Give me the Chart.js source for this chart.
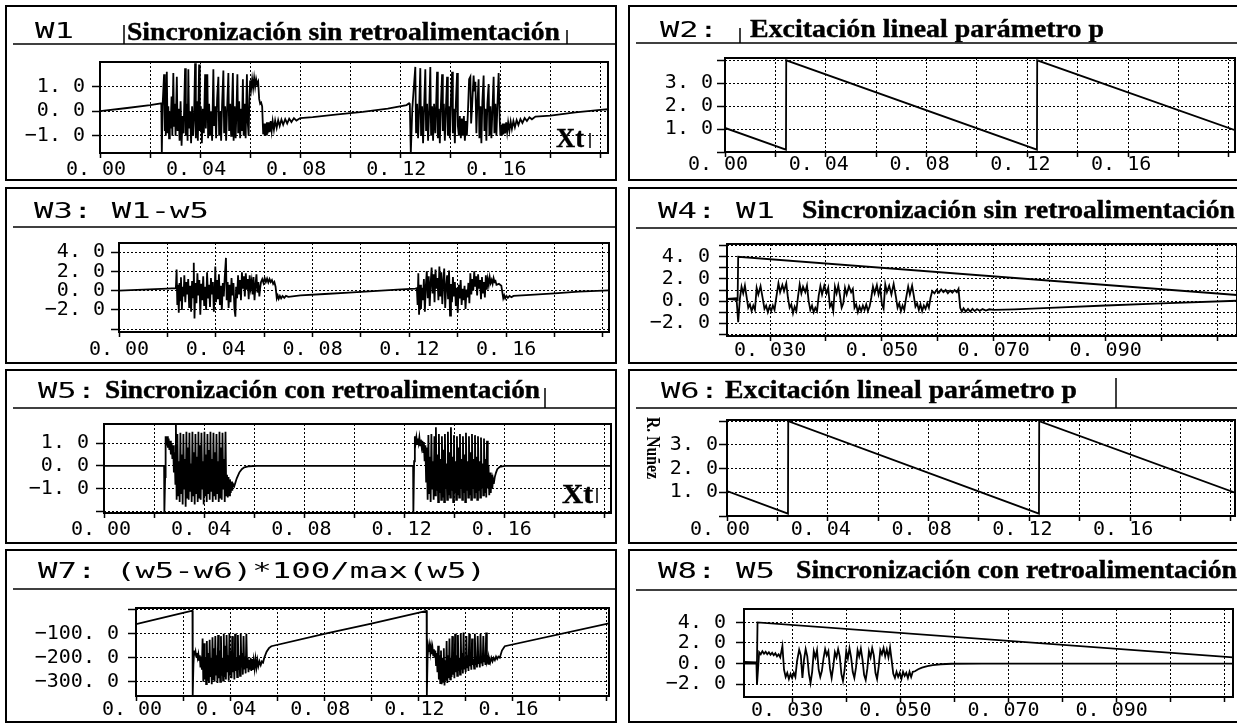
<!DOCTYPE html>
<html>
<head>
<meta charset="utf-8">
<script src="https://cdn.jsdelivr.net/npm/chart.js@4.4.1/dist/chart.umd.min.js"></script>
<style>
  html, body { margin: 0; padding: 0; background: #fff; }
  #page { position: relative; width: 1237px; height: 724px; overflow: hidden; background: #fff; }
  canvas { position: absolute; }
  svg { position: absolute; left: 0; top: 0; pointer-events: none; }
  .mono { font-family: "DejaVu Sans Mono", monospace; font-size: 21px; }
  .serif { font-family: "Liberation Serif", "DejaVu Serif", serif; font-weight: bold; font-size: 25px; stroke: #000; stroke-width: 0.4px; }
  .xt { font-family: "Liberation Serif", "DejaVu Serif", serif; font-weight: bold; font-size: 28px; stroke: #000; stroke-width: 0.4px; }
</style>
</head>
<body>
<div id="page">
  <canvas id="c1"></canvas><canvas id="c2"></canvas>
  <canvas id="c3"></canvas><canvas id="c4"></canvas>
  <canvas id="c5"></canvas><canvas id="c6"></canvas>
  <canvas id="c7"></canvas><canvas id="c8"></canvas>
  <svg width="1237" height="724" xmlns="http://www.w3.org/2000/svg">
    <g fill="none" stroke="#000" stroke-width="2">
      <rect x="6" y="6" width="610" height="174"/>
      <rect x="629" y="6" width="620" height="174"/>
      <rect x="6" y="188" width="610" height="175"/>
      <rect x="629" y="188" width="620" height="175"/>
      <rect x="6" y="370" width="610" height="173"/>
      <rect x="629" y="370" width="620" height="173"/>
      <rect x="6" y="550" width="610" height="172"/>
      <rect x="629" y="550" width="620" height="172"/>
    </g>
    <g stroke="#000" stroke-width="1.5">
      <line x1="13" y1="44" x2="616" y2="44"/>
      <line x1="636" y1="43" x2="1237" y2="43"/>
      <line x1="13" y1="227" x2="616" y2="227"/>
      <line x1="636" y1="228" x2="1237" y2="228"/>
      <line x1="13" y1="408" x2="616" y2="408"/>
      <line x1="636" y1="408" x2="1237" y2="408"/>
      <line x1="13" y1="589" x2="616" y2="589"/>
      <line x1="636" y1="590" x2="1237" y2="590"/>
      <line x1="124" y1="25" x2="124" y2="44"/>
      <line x1="567" y1="30" x2="567" y2="44"/>
      <line x1="590" y1="133" x2="590" y2="148"/>
      <line x1="740" y1="28" x2="740" y2="43"/>
      <line x1="545" y1="388" x2="545" y2="408"/>
      <line x1="597" y1="488" x2="597" y2="503"/>
      <line x1="1116" y1="378" x2="1116" y2="408"/>
    </g>
    <g fill="#000">
      <text class="mono" x="35" y="38" textLength="39" lengthAdjust="spacingAndGlyphs">W1</text>
      <text class="serif" x="127" y="40" textLength="433" lengthAdjust="spacingAndGlyphs">Sincronización sin retroalimentación</text>
      <text class="xt" x="556" y="147" textLength="28" lengthAdjust="spacingAndGlyphs">Xt</text>

      <text class="mono" x="660" y="37" textLength="58" lengthAdjust="spacingAndGlyphs">W2:</text>
      <text class="serif" x="750" y="37" textLength="354" lengthAdjust="spacingAndGlyphs">Excitación lineal parámetro p</text>

      <text class="mono" x="34" y="218" textLength="175" lengthAdjust="spacingAndGlyphs">W3: W1-w5</text>

      <text class="mono" x="658" y="218" textLength="117" lengthAdjust="spacingAndGlyphs">W4: W1</text>
      <text class="serif" x="802" y="218" textLength="433" lengthAdjust="spacingAndGlyphs">Sincronización sin retroalimentación</text>

      <text class="mono" x="38" y="398" textLength="58" lengthAdjust="spacingAndGlyphs">W5:</text>
      <text class="serif" x="105" y="398" textLength="435" lengthAdjust="spacingAndGlyphs">Sincronización con retroalimentación</text>
      <text class="xt" x="562" y="503" textLength="31" lengthAdjust="spacingAndGlyphs">Xt</text>

      <text class="mono" x="661" y="398" textLength="58" lengthAdjust="spacingAndGlyphs">W6:</text>
      <text class="serif" x="725" y="398" textLength="352" lengthAdjust="spacingAndGlyphs">Excitación lineal parámetro p</text>
      <text transform="translate(647,417) rotate(90)" font-family="Liberation Serif, serif" font-weight="bold" font-size="19" textLength="62" lengthAdjust="spacingAndGlyphs">R. Nuñez</text>

      <text class="mono" x="38" y="578" textLength="448" lengthAdjust="spacingAndGlyphs">W7: (w5-w6)*100/max(w5)</text>

      <text class="mono" x="658" y="578" textLength="117" lengthAdjust="spacingAndGlyphs">W8: W5</text>
      <text class="serif" x="796" y="578" textLength="441" lengthAdjust="spacingAndGlyphs">Sincronización con retroalimentación</text>
    </g>
  </svg>
</div>
<script>
// tick positions and labels
const xTicksFull = [0, 0.02, 0.04, 0.06, 0.08, 0.10, 0.12, 0.14, 0.16, 0.18, 0.20];
const xLabelsFull = [0, 0.04, 0.08, 0.12, 0.16];
const xTicksZoom = [0.03, 0.04, 0.05, 0.06, 0.07, 0.08, 0.09, 0.10, 0.11];
const xLabelsZoom = [0.03, 0.05, 0.07, 0.09];

const w1YTicks = [-1, 0, 1];
const w1YLabels = [-1, 0, 1];
const w2YTicks = [0, 1, 2, 3, 4];
const w2YLabels = [1, 2, 3];
const w3YTicks = [-4, -2, 0, 2, 4];
const w3YLabels = [-2, 0, 2, 4];
const w4YTicks = [-3, -2, -1, 0, 1, 2, 3, 4, 5];
const w4YLabels = [-2, 0, 2, 4];
const w5YTicks = [-2, -1, 0, 1];
const w5YLabels = [-1, 0, 1];
const w6YTicks = [0, 1, 2, 3, 4];
const w6YLabels = [1, 2, 3];
const w7YTicks = [-300, -200, -100, 0];
const w7YLabels = [-300, -200, -100];
const w8YTicks = [-2, 0, 2, 4];
const w8YLabels = [-2, 0, 2, 4];

// W1: sync without feedback (x, Xt)
const w1Data = [
 [0,0.0],[0.010,0.12],[0.020,0.25],[0.0245,0.32],[0.0247,-1.7],[0.0250,0.2],
 [0.0256,1.5],[0.0259,-0.8],[0.0261,0.1],[0.0263,-1.0],[0.0267,1.6],[0.0270,-0.9],[0.0273,0.2],[0.0276,-1.1],[0.0279,0.0],[0.0282,-0.7],
 [0.0286,0.6],[0.0289,-1.0],[0.0293,1.55],[0.0296,-0.6],[0.0299,0.3],[0.0302,-1.0],[0.0307,1.4],[0.0310,-0.8],[0.0314,0.1],[0.0318,-1.2],
 [0.0322,0.4],[0.0326,-1.4],[0.0330,-0.2],[0.0334,-0.9],[0.0340,1.75],[0.0343,-1.0],[0.0347,0.3],[0.0350,-1.2],[0.0353,1.7],[0.0356,-0.7],
 [0.0360,0.0],[0.0364,-1.3],[0.0368,0.2],[0.0372,-1.0],[0.0376,-0.2],[0.0380,1.95],[0.0383,-1.1],[0.0387,0.4],[0.0391,-1.2],[0.0396,1.9],
 [0.0399,-0.8],[0.0403,0.2],[0.0407,-1.3],[0.0411,0.1],[0.0415,-0.9],[0.0420,1.5],[0.0423,-0.7],[0.0429,1.5],[0.0432,-1.1],[0.0436,0.3],
 [0.0440,-1.0],[0.0444,0.0],[0.0448,-1.2],[0.0453,1.7],[0.0456,-0.6],[0.0460,0.2],[0.0464,-1.1],[0.0468,0.5],[0.0473,1.4],[0.0476,-1.0],
 [0.0480,0.0],[0.0484,-1.2],[0.0488,0.3],[0.0493,1.65],[0.0496,-0.9],[0.0500,0.2],[0.0504,-1.2],[0.0508,0.1],[0.0513,1.55],[0.0516,-0.8],
 [0.0520,0.3],[0.0524,-1.0],[0.0527,0.0],[0.0531,1.55],[0.0534,-1.2],[0.0538,0.2],[0.0542,-1.1],[0.0545,-0.1],[0.0549,1.5],[0.0552,-0.9],
 [0.0556,0.4],[0.0560,-1.1],[0.0564,0.1],[0.0567,-0.8],[0.0571,1.3],[0.0574,-1.0],[0.0578,0.3],[0.0582,-1.1],[0.0587,1.5],[0.0590,-0.4],
 [0.0594,-1.0],[0.0597,0.5],[0.0600,1.25],[0.0604,0.9],[0.0608,1.3],[0.0612,0.95],[0.0616,1.35],[0.0620,1.0],[0.0624,1.3],[0.0628,1.1],
 [0.0632,1.2],[0.0636,0.5],[0.0640,0.3],[0.0644,0.35],[0.0648,0.2],[0.0652,-0.9],
 [0.0655,-0.5],[0.0658,-1.0],[0.0661,-0.5],[0.0664,-0.95],[0.0667,-0.45],[0.0670,-0.9],[0.0674,-0.45],[0.0678,-0.85],[0.0682,-0.4],[0.0686,-0.8],
 [0.0690,-0.4],[0.0695,-0.75],[0.0700,-0.38],[0.0706,-0.68],[0.0712,-0.36],[0.0718,-0.6],[0.0725,-0.34],[0.0732,-0.55],[0.0740,-0.32],[0.0748,-0.5],
 [0.0756,-0.3],[0.0765,-0.44],[0.0775,-0.28],[0.0785,-0.38],[0.0800,-0.28],[0.0850,-0.24],[0.0950,-0.13],[0.1050,-0.03],[0.1150,0.1],[0.1225,0.25],
 [0.1235,0.32],[0.1238,0.28],[0.1242,-1.7],[0.1248,0.1],
 [0.1260,1.8],[0.1263,-0.9],[0.1267,0.3],[0.1271,-1.1],[0.1275,0.0],[0.1280,1.75],[0.1283,-1.0],[0.1287,0.2],[0.1291,-1.3],[0.1295,0.1],
 [0.1300,1.7],[0.1303,-0.8],[0.1307,0.3],[0.1311,-1.2],[0.1315,-0.1],[0.1320,1.8],[0.1323,-1.0],[0.1327,0.2],[0.1331,-1.2],[0.1335,0.3],
 [0.1340,-0.9],[0.1347,1.6],[0.1350,-1.1],[0.1354,0.1],[0.1358,-1.3],[0.1362,0.2],[0.1367,1.5],[0.1370,-0.8],[0.1374,0.3],[0.1378,-1.2],
 [0.1382,0.0],[0.1387,1.4],[0.1390,-1.0],[0.1394,0.2],[0.1398,-1.1],[0.1402,0.4],[0.1407,1.6],[0.1410,-0.9],[0.1414,0.1],[0.1418,-1.3],
 [0.1422,0.3],[0.1427,1.55],[0.1430,-0.6],[0.1434,-1.0],[0.1438,-0.2],[0.1442,-1.1],[0.1446,-0.3],[0.1450,-1.0],[0.1454,-0.2],[0.1458,-1.2],
 [0.1462,-0.4],[0.1466,-1.0],[0.1470,-0.1],[0.1475,1.3],[0.1480,1.4],[0.1483,-0.5],[0.1487,0.2],[0.1493,1.45],[0.1496,0.8],[0.1500,1.2],
 [0.1504,-0.9],[0.1508,0.3],[0.1513,1.3],[0.1516,-1.1],[0.1520,0.2],[0.1524,-1.3],[0.1528,0.4],[0.1533,1.45],[0.1536,-0.8],[0.1540,0.1],
 [0.1544,-1.2],[0.1548,0.3],[0.1553,1.1],[0.1556,-1.0],[0.1560,0.2],[0.1564,-1.1],[0.1568,0.0],[0.1573,1.4],[0.1576,-0.9],[0.1580,0.3],
 [0.1584,-1.0],[0.1588,0.2],[0.1593,1.55],[0.1597,-0.3],[0.1600,-1.0],
 [0.1603,-0.55],[0.1606,-1.0],[0.1609,-0.5],[0.1612,-0.95],[0.1615,-0.5],[0.1619,-0.9],[0.1623,-0.45],[0.1627,-0.85],[0.1631,-0.45],[0.1636,-0.8],
 [0.1641,-0.42],[0.1646,-0.72],[0.1652,-0.4],[0.1658,-0.65],[0.1665,-0.36],[0.1672,-0.56],[0.1680,-0.32],[0.1688,-0.48],[0.1697,-0.28],[0.1706,-0.4],
 [0.1716,-0.25],[0.1726,-0.33],[0.1740,-0.22],[0.1800,-0.18],[0.1900,-0.05],[0.2000,0.05],[0.2030,0.08]
];

// W2 and W6: linear excitation of parameter p
const w2Data = [[0,1.05],[0.0242,0.1],[0.0243,4.0],[0.1238,0.1],[0.1239,4.0],[0.2024,0.95]];
const w6Data = [[0,1.05],[0.0242,0.1],[0.0243,4.0],[0.1238,0.1],[0.1239,4.0],[0.2016,0.98]];

// W3: W1 - w5
const w3Data = [
 [0,0.0],[0.010,0.1],[0.020,0.2],[0.0235,0.25],
 [0.0238,2.2],[0.0241,-1.5],[0.0244,0.6],[0.0247,-2.3],[0.0250,0.8],[0.0253,-1.0],[0.0256,1.4],[0.0260,-2.0],[0.0263,0.4],[0.0267,-0.6],
 [0.0270,1.6],[0.0274,-1.2],[0.0278,0.9],[0.0282,-0.4],[0.0286,1.2],[0.0290,-1.8],[0.0294,0.5],[0.0298,-2.2],[0.0302,1.0],[0.0306,-0.7],
 [0.0309,2.9],[0.0312,-2.9],[0.0316,0.8],[0.0320,-1.3],[0.0324,1.8],[0.0328,-0.5],[0.0332,1.1],[0.0336,-2.5],[0.0340,0.7],[0.0344,-1.0],
 [0.0348,1.5],[0.0352,-1.6],[0.0356,0.4],[0.0360,-2.0],[0.0364,1.9],[0.0368,-0.8],[0.0372,0.6],[0.0376,-1.7],[0.0380,1.3],[0.0384,-0.4],
 [0.0388,0.9],[0.0392,-2.2],[0.0396,0.3],[0.0398,2.5],[0.0401,-1.2],[0.0405,1.1],[0.0409,-0.9],[0.0413,1.7],[0.0417,-1.5],[0.0421,0.5],
 [0.0425,-2.0],[0.0429,0.8],[0.0433,-0.6],[0.0437,1.4],[0.0442,3.4],[0.0445,-1.0],[0.0449,0.9],[0.0453,-1.8],[0.0457,0.6],[0.0461,-1.2],
 [0.0465,1.3],[0.0469,-0.5],[0.0473,0.8],[0.0477,-1.9],[0.0481,-2.7],[0.0484,0.4],[0.0488,-0.8],[0.0492,1.6],[0.0496,-0.3],[0.0500,1.1],
 [0.0504,-1.0],[0.0508,1.9],[0.0512,0.2],[0.0516,1.5],[0.0520,-0.6],[0.0524,1.8],[0.0528,0.1],[0.0532,1.2],[0.0536,-0.9],[0.0540,1.6],
 [0.0544,0.3],[0.0548,1.0],[0.0552,-0.4],[0.0556,1.4],[0.0560,-1.0],[0.0564,0.6],[0.0568,1.7],[0.0572,-0.2],[0.0576,0.9],[0.0580,-0.6],
 [0.0584,0.4],[0.0587,0.9],[0.0592,1.2],[0.0597,0.8],[0.0602,1.3],[0.0607,0.9],[0.0612,1.25],[0.0617,0.85],[0.0622,1.2],[0.0627,0.9],
 [0.0632,1.1],[0.0637,0.7],[0.0642,0.9],[0.0647,0.4],[0.0652,-0.8],[0.0656,-0.5],[0.0660,-0.85],[0.0665,-0.55],[0.0670,-0.8],[0.0676,-0.55],
 [0.0683,-0.75],[0.0690,-0.55],[0.0700,-0.65],[0.0750,-0.5],[0.0850,-0.35],[0.0950,-0.2],[0.1050,-0.05],[0.1150,0.1],[0.1225,0.2],[0.1231,0.25],
 [0.1234,-1.5],[0.1237,1.8],[0.1240,-2.5],[0.1244,0.6],[0.1248,-1.9],[0.1252,0.3],[0.1256,-1.0],[0.1260,1.2],[0.1264,-2.2],[0.1268,0.5],
 [0.1272,2.0],[0.1276,-0.8],[0.1280,1.5],[0.1284,-1.6],[0.1288,0.8],[0.1292,2.4],[0.1296,-0.3],[0.1300,1.7],[0.1304,-1.2],[0.1308,2.2],
 [0.1312,0.2],[0.1316,1.3],[0.1320,-1.0],[0.1324,2.5],[0.1328,-0.6],[0.1332,1.9],[0.1336,-1.4],[0.1340,1.0],[0.1344,2.3],[0.1348,-1.8],
 [0.1352,0.4],[0.1356,1.6],[0.1360,-0.9],[0.1364,2.1],[0.1368,-2.6],[0.1372,0.7],[0.1376,-1.2],[0.1380,1.4],[0.1384,-0.6],[0.1388,0.9],
 [0.1392,-1.6],[0.1396,0.3],[0.1400,-2.3],[0.1404,0.6],[0.1408,-0.8],[0.1412,1.1],[0.1416,-1.5],[0.1420,0.2],[0.1424,-1.0],[0.1428,0.5],
 [0.1432,-1.9],[0.1436,0.1],[0.1440,-0.7],[0.1444,0.8],[0.1448,-1.3],[0.1452,1.8],[0.1456,-0.4],[0.1460,1.2],[0.1464,0.0],[0.1468,2.0],
 [0.1472,0.4],[0.1476,1.5],[0.1480,-0.5],[0.1484,1.7],[0.1488,0.2],[0.1492,1.1],[0.1496,-0.9],[0.1500,1.4],[0.1504,-0.3],[0.1508,0.9],
 [0.1512,-0.7],[0.1516,1.6],[0.1520,0.1],[0.1524,1.2],[0.1528,0.6],[0.1532,1.4],[0.1536,0.8],[0.1540,1.1],[0.1544,0.7],[0.1548,1.3],
 [0.1552,0.9],[0.1556,1.0],[0.1560,0.6],[0.1570,0.7],[0.1580,0.5],[0.1588,-0.8],[0.1592,-0.5],[0.1596,-0.8],[0.1601,-0.55],[0.1607,-0.75],
 [0.1614,-0.55],[0.1622,-0.68],[0.1630,-0.55],[0.1700,-0.45],[0.1800,-0.28],[0.1900,-0.1],[0.2025,0.02]
];

// W4: zoom of W1 together with the excitation ramp
const w4Saw = [[0.0223,0.2],[0.0242,0.1],[0.0243,4.0],[0.1135,0.55]];
const w4Signal = [
 [0.0223,0.2],[0.0240,0.25],[0.0243,-1.9],[0.0246,0.2],
 [0.0249,1.3],[0.0252,0.7],[0.0255,1.4],[0.0258,0.4],[0.0261,-0.6],[0.0264,-0.3],[0.0267,-0.9],[0.0270,-0.4],[0.0273,-0.8],[0.0276,1.2],
 [0.0279,0.6],[0.0283,1.35],[0.0287,0.2],[0.0290,-0.7],[0.0293,-0.4],[0.0296,-1.0],[0.0299,-0.5],[0.0302,-0.9],[0.0305,-0.4],[0.0308,-0.8],
 [0.0311,0.3],[0.0315,1.6],[0.0318,0.8],[0.0322,1.45],[0.0325,0.9],[0.0329,1.6],[0.0332,0.3],[0.0335,-0.6],[0.0338,-0.3],[0.0341,-1.1],
 [0.0344,-0.5],[0.0347,-0.9],[0.0350,0.4],[0.0353,1.5],[0.0356,0.7],[0.0359,1.3],[0.0363,0.8],[0.0366,1.4],[0.0369,0.0],[0.0372,-0.8],
 [0.0375,-0.4],[0.0378,-1.0],[0.0381,-0.6],[0.0384,-0.9],[0.0387,0.5],[0.0390,1.35],[0.0393,0.6],[0.0397,1.4],[0.0401,0.7],[0.0404,1.2],
 [0.0407,-0.5],[0.0410,-0.2],[0.0413,-0.9],[0.0416,1.3],[0.0419,0.7],[0.0422,1.4],[0.0425,0.5],[0.0428,-0.6],[0.0431,-0.2],[0.0434,1.2],
 [0.0437,0.6],[0.0441,1.35],[0.0445,0.8],[0.0448,1.1],[0.0451,-0.6],[0.0454,-0.3],[0.0457,-1.0],[0.0460,-0.5],[0.0463,-0.9],[0.0466,-0.4],
 [0.0469,-0.8],[0.0472,-0.3],[0.0475,-0.9],[0.0478,-0.5],[0.0481,0.3],[0.0484,1.3],[0.0487,0.7],[0.0491,1.45],[0.0494,0.6],[0.0497,1.2],
 [0.0500,-0.3],[0.0503,-0.7],[0.0506,1.5],[0.0509,0.8],[0.0513,1.4],[0.0517,0.6],[0.0521,1.55],[0.0525,0.4],[0.0528,-0.6],[0.0531,-0.2],
 [0.0534,-0.9],[0.0537,-0.4],[0.0540,-0.8],[0.0543,0.2],[0.0547,1.3],[0.0550,0.6],[0.0554,1.4],[0.0557,0.5],[0.0560,-0.5],[0.0563,-0.2],
 [0.0566,-0.8],[0.0569,-0.3],[0.0572,-0.9],[0.0575,-0.4],[0.0578,-0.7],[0.0581,-0.2],[0.0584,-0.6],[0.0587,0.3],[0.0590,0.9],[0.0594,0.7],
 [0.0598,1.0],[0.0602,0.75],[0.0606,1.05],[0.0610,0.8],[0.0614,1.0],[0.0618,0.7],[0.0622,0.95],[0.0626,0.75],[0.0630,1.0],[0.0634,0.8],
 [0.0637,1.1],[0.0640,-0.6],[0.0643,-0.95],[0.0646,-0.65],[0.0650,-0.95],[0.0654,-0.7],[0.0658,-0.95],[0.0662,-0.7],[0.0666,-0.9],[0.0670,-0.72],
 [0.0675,-0.88],[0.0680,-0.72],[0.0686,-0.85],[0.0692,-0.74],[0.0700,-0.8],[0.0737,-0.75],[0.0800,-0.62],[0.0900,-0.4],[0.1000,-0.2],[0.1135,0.03]
];

// W5: sync with feedback (x, Xt)
const w5Data = [
 [0,0],[0.0240,0],[0.0241,-2.08],[0.0244,-0.5],[0.0246,1.3],[0.0249,0.9],[0.0252,1.3],[0.0255,0.8],[0.0258,1.2],[0.0261,0.7],
 [0.0264,1.1],[0.0267,0.5],[0.0270,1.0],[0.0273,0.3],[0.0276,0.9],[0.0279,-0.3],[0.0282,0.6],[0.0285,-0.8],[0.0287,1.85],[0.0290,-1.5],
 [0.0293,1.4],[0.0296,-1.3],[0.0299,0.2],[0.0302,-1.6],[0.0305,1.45],[0.0308,-1.2],[0.0311,0.5],[0.0314,-1.7],[0.0317,1.4],[0.0320,-1.0],
 [0.0323,0.3],[0.0326,-1.8],[0.0329,1.5],[0.0332,-1.4],[0.0335,0.8],[0.0338,-1.5],[0.0341,1.45],[0.0344,-1.1],[0.0347,0.1],[0.0350,-1.6],
 [0.0353,1.5],[0.0356,-1.3],[0.0359,0.6],[0.0362,-1.7],[0.0365,1.4],[0.0368,-1.2],[0.0371,0.4],[0.0374,-1.6],[0.0377,1.5],[0.0380,-1.4],
 [0.0383,0.9],[0.0386,-1.5],[0.0389,1.45],[0.0392,-1.0],[0.0395,0.2],[0.0398,-1.7],[0.0401,1.5],[0.0404,-1.3],[0.0407,0.5],[0.0410,-1.6],
 [0.0413,1.4],[0.0416,-1.2],[0.0419,0.7],[0.0422,-1.5],[0.0425,1.5],[0.0428,-1.1],[0.0431,0.3],[0.0434,-1.6],[0.0437,1.45],[0.0440,-1.3],
 [0.0443,0.6],[0.0446,-1.5],[0.0449,1.4],[0.0452,-1.2],[0.0455,0.2],[0.0458,-1.6],[0.0461,1.5],[0.0464,-1.4],[0.0467,0.8],[0.0470,-1.5],
 [0.0473,1.45],[0.0476,-1.0],[0.0479,0.3],[0.0482,-1.6],[0.0485,1.5],[0.0488,-1.3],[0.0491,-0.4],[0.0494,-1.4],[0.0497,-0.5],[0.0500,-1.3],
 [0.0503,-0.6],[0.0506,-1.2],[0.0509,-0.7],[0.0512,-1.1],[0.0515,-0.8],[0.0520,-0.9],[0.0530,-0.55],[0.0540,-0.3],[0.0550,-0.15],[0.0560,-0.07],
 [0.0580,-0.02],[0.0610,0],
 [0.1234,0],[0.1235,-2.08],[0.1238,0.2],[0.1241,1.3],[0.1244,1.0],[0.1247,1.25],[0.1250,0.95],[0.1253,1.2],[0.1256,1.0],[0.1259,1.25],
 [0.1262,0.9],[0.1265,1.15],[0.1268,0.85],[0.1271,1.1],[0.1274,0.6],[0.1277,1.05],[0.1280,0.2],[0.1283,0.9],[0.1286,-0.7],[0.1289,0.8],
 [0.1292,-1.5],[0.1295,1.35],[0.1298,-1.2],[0.1301,0.4],[0.1304,-1.6],[0.1307,1.4],[0.1310,-1.0],[0.1313,0.2],[0.1316,-1.5],[0.1319,1.3],
 [0.1322,-1.3],[0.1325,1.7],[0.1328,-1.1],[0.1331,0.5],[0.1334,-1.6],[0.1337,1.4],[0.1340,-1.2],[0.1343,0.3],[0.1346,-1.5],[0.1349,1.3],
 [0.1352,-1.4],[0.1355,0.7],[0.1358,-1.6],[0.1361,1.4],[0.1364,-1.0],[0.1367,0.1],[0.1370,-1.5],[0.1373,1.5],[0.1376,-1.3],[0.1379,0.6],
 [0.1382,-1.4],[0.1385,1.7],[0.1388,-1.1],[0.1391,0.4],[0.1394,-1.6],[0.1397,1.35],[0.1400,-1.2],[0.1403,0.2],[0.1406,-1.5],[0.1409,1.3],
 [0.1412,-1.3],[0.1415,0.8],[0.1418,-1.4],[0.1421,1.4],[0.1424,-1.0],[0.1427,0.3],[0.1430,-1.5],[0.1433,1.3],[0.1436,-1.2],[0.1439,0.5],
 [0.1442,-1.6],[0.1445,1.45],[0.1448,-1.1],[0.1451,0.2],[0.1454,-1.4],[0.1457,1.3],[0.1460,-1.3],[0.1463,0.6],[0.1466,-1.5],[0.1469,1.4],
 [0.1472,-1.0],[0.1475,0.3],[0.1478,-1.4],[0.1481,1.35],[0.1484,-1.2],[0.1487,0.4],[0.1490,-1.5],[0.1493,1.3],[0.1496,-1.1],[0.1499,0.2],
 [0.1502,-1.4],[0.1505,1.25],[0.1508,-1.0],[0.1511,0.1],[0.1514,-1.3],[0.1517,1.2],[0.1520,-1.2],[0.1523,0.3],[0.1526,-1.4],[0.1529,1.1],
 [0.1532,-1.0],[0.1535,0.0],[0.1538,-1.3],[0.1541,-0.3],[0.1544,-1.2],[0.1547,-0.4],[0.1550,-1.0],[0.1553,-0.6],[0.1556,-0.8],[0.1560,-0.5],
 [0.1565,-0.3],[0.1570,-0.15],[0.1580,-0.05],[0.1600,0],[0.2024,0]
];

// W7: (w5-w6)*100/max(w5)
const w7Data = [
 [0,-60],[0.012,-32],[0.0240,-4],[0.0241,-355],[0.0244,-230],[0.0247,-170],[0.0250,-190],[0.0253,-175],[0.0256,-195],[0.0259,-180],
 [0.0262,-200],[0.0265,-185],[0.0268,-210],[0.0271,-190],[0.0274,-240],[0.0277,-195],[0.0280,-250],[0.0283,-120],[0.0286,-300],[0.0289,-140],
 [0.0292,-290],[0.0295,-200],[0.0298,-310],[0.0301,-130],[0.0304,-295],[0.0307,-180],[0.0310,-305],[0.0313,-125],[0.0316,-280],[0.0319,-200],
 [0.0322,-310],[0.0325,-115],[0.0328,-290],[0.0331,-160],[0.0334,-300],[0.0337,-110],[0.0340,-270],[0.0343,-190],[0.0346,-305],[0.0349,-105],
 [0.0352,-285],[0.0355,-170],[0.0358,-300],[0.0361,-110],[0.0364,-275],[0.0367,-200],[0.0370,-295],[0.0373,-100],[0.0376,-280],[0.0379,-150],
 [0.0382,-290],[0.0385,-105],[0.0388,-260],[0.0391,-190],[0.0394,-295],[0.0397,-100],[0.0400,-270],[0.0403,-170],[0.0406,-285],[0.0409,-110],
 [0.0412,-260],[0.0415,-180],[0.0418,-290],[0.0421,-100],[0.0424,-255],[0.0427,-200],[0.0430,-280],[0.0433,-105],[0.0436,-250],[0.0439,-190],
 [0.0442,-275],[0.0445,-100],[0.0448,-240],[0.0451,-180],[0.0454,-270],[0.0457,-110],[0.0460,-245],[0.0463,-195],[0.0466,-265],[0.0469,-100],
 [0.0472,-240],[0.0475,-200],[0.0478,-260],[0.0481,-210],[0.0484,-250],[0.0487,-200],[0.0490,-255],[0.0493,-205],[0.0496,-250],[0.0500,-210],
 [0.0504,-245],[0.0508,-205],[0.0512,-240],[0.0516,-210],[0.0520,-235],[0.0525,-215],[0.0530,-230],[0.0535,-215],[0.0540,-220],[0.0545,-200],
 [0.0555,-175],[0.0565,-160],[0.0575,-152],[0.0800,-101],[0.1000,-58],[0.1235,-5],
 [0.1236,-355],[0.1239,-200],[0.1242,-155],[0.1245,-175],[0.1248,-150],[0.1251,-180],[0.1254,-155],[0.1257,-185],[0.1260,-160],[0.1263,-190],
 [0.1266,-165],[0.1269,-200],[0.1272,-170],[0.1275,-230],[0.1278,-180],[0.1281,-260],[0.1284,-150],[0.1287,-290],[0.1290,-190],[0.1293,-305],
 [0.1296,-170],[0.1299,-310],[0.1302,-200],[0.1305,-300],[0.1308,-160],[0.1311,-315],[0.1314,-210],[0.1317,-295],[0.1320,-130],[0.1323,-305],
 [0.1326,-190],[0.1329,-285],[0.1332,-120],[0.1335,-290],[0.1338,-200],[0.1341,-280],[0.1344,-110],[0.1347,-270],[0.1350,-180],[0.1353,-285],
 [0.1356,-100],[0.1359,-260],[0.1362,-190],[0.1365,-275],[0.1368,-105],[0.1371,-255],[0.1374,-200],[0.1377,-270],[0.1380,-100],[0.1383,-250],
 [0.1386,-180],[0.1389,-265],[0.1392,-95],[0.1395,-245],[0.1398,-200],[0.1401,-260],[0.1404,-110],[0.1407,-240],[0.1410,-190],[0.1413,-255],
 [0.1416,-100],[0.1419,-235],[0.1422,-200],[0.1425,-250],[0.1428,-120],[0.1431,-230],[0.1434,-205],[0.1437,-245],[0.1440,-100],[0.1443,-230],
 [0.1446,-195],[0.1449,-240],[0.1452,-110],[0.1455,-225],[0.1458,-200],[0.1461,-240],[0.1464,-100],[0.1467,-220],[0.1470,-205],[0.1473,-235],
 [0.1476,-110],[0.1479,-215],[0.1482,-200],[0.1485,-230],[0.1488,-95],[0.1491,-215],[0.1494,-205],[0.1497,-225],[0.1500,-200],[0.1505,-220],
 [0.1510,-200],[0.1515,-215],[0.1520,-200],[0.1525,-210],[0.1530,-195],[0.1535,-205],[0.1540,-195],[0.1546,-200],[0.1555,-170],[0.1567,-152],
 [0.2010,-57]
];

// W8: zoom of W5 together with the excitation ramp
const w8Saw = [[0.0211,0.15],[0.0235,0.1],[0.0236,4.0],[0.1115,0.6]];
const w8Signal = [
 [0.0211,0],[0.0234,0],[0.0235,-2.05],[0.0237,-0.5],[0.0239,1.1],[0.0242,0.9],[0.0245,1.2],[0.0248,0.95],[0.0251,1.15],[0.0254,0.9],
 [0.0257,1.1],[0.0260,0.85],[0.0263,1.05],[0.0266,0.8],[0.0269,1.0],[0.0272,0.7],[0.0275,0.9],[0.0278,0.6],[0.0282,1.7],[0.0285,-0.6],
 [0.0288,-1.3],[0.0291,-0.9],[0.0294,-1.5],[0.0297,-1.0],[0.0300,-1.4],[0.0303,-0.9],[0.0306,-1.3],[0.0309,0.2],[0.0313,1.35],[0.0316,0.8],
 [0.0319,-1.4],[0.0322,0.4],[0.0325,1.4],[0.0328,0.7],[0.0331,-1.0],[0.0334,-1.9],[0.0337,-0.8],[0.0340,1.2],[0.0343,0.6],[0.0346,1.3],
 [0.0349,-0.6],[0.0352,-1.3],[0.0355,-0.7],[0.0358,0.5],[0.0361,1.4],[0.0364,0.8],[0.0367,1.2],[0.0370,-0.5],[0.0373,-1.4],[0.0376,-0.3],
 [0.0379,1.1],[0.0382,0.6],[0.0385,1.4],[0.0388,0.7],[0.0391,-1.0],[0.0394,-1.7],[0.0397,-0.6],[0.0400,1.2],[0.0403,0.5],[0.0406,1.5],
 [0.0409,0.6],[0.0412,-0.8],[0.0415,-1.4],[0.0418,-0.4],[0.0421,1.3],[0.0424,0.7],[0.0427,1.45],[0.0430,0.4],[0.0433,-1.1],[0.0436,-1.6],
 [0.0439,-0.5],[0.0442,1.2],[0.0445,0.6],[0.0448,1.5],[0.0451,0.8],[0.0454,-0.9],[0.0457,-1.5],[0.0460,-0.3],[0.0463,1.3],[0.0466,0.9],
 [0.0469,1.5],[0.0472,0.7],[0.0475,1.35],[0.0478,0.6],[0.0481,1.55],[0.0484,0.3],[0.0487,-1.0],[0.0490,-1.4],[0.0493,-0.8],[0.0496,-1.3],
 [0.0499,-0.9],[0.0502,-1.5],[0.0505,-0.8],[0.0508,-1.2],[0.0511,-0.9],[0.0514,-1.4],[0.0517,-0.8],[0.0520,-1.3],[0.0523,-0.8],[0.0527,-0.75],
 [0.0533,-0.55],[0.0540,-0.4],[0.0550,-0.25],[0.0560,-0.15],[0.0575,-0.07],[0.0595,-0.02],[0.0650,0],[0.1115,0]
];

function fmt(v, d) {
  return (v < 0 ? '\u2212' : '') + Math.abs(v).toFixed(d).replace('.', '. ');
}
function inList(list, v) {
  return list.some(l => Math.abs(l - v) < 1e-9);
}

const framePlugin = {
  id: 'frame',
  afterDraw(chart) {
    const { ctx, chartArea: a } = chart;
    ctx.save();
    ctx.strokeStyle = '#000';
    ctx.lineWidth = 2;
    ctx.strokeRect(a.left, a.top, a.right - a.left, a.bottom - a.top);
    ctx.restore();
  }
};

// frame = [left, top, right, bottom] of the plot box on the page
const panels = [
  { id: 'c1', frame: [100, 53, 608, 153], x: [0, 0.203], y: [-1.7, 2.0], xt: xTicksFull, xl: xLabelsFull, xd: 2,
    yt: w1YTicks, yl: w1YLabels, yd: 1, yPad: 7, xPad: 2, xOff: -4, series: [w1Data] },
  { id: 'c2', frame: [725, 52, 1235, 152], x: [0, 0.2024], y: [0, 4.1], xt: xTicksFull, xl: xLabelsFull, xd: 2,
    yt: w2YTicks, yl: w2YLabels, yd: 1, yPad: 4, xPad: -2, xOff: -7, series: [w2Data] },
  { id: 'c3', frame: [119, 235, 609, 332], x: [0, 0.2025], y: [-4.3, 4.95], xt: xTicksFull, xl: xLabelsFull, xd: 2,
    yt: w3YTicks, yl: w3YLabels, yd: 1, yPad: 6, xPad: 3, xOff: 0, series: [w3Data] },
  { id: 'c4', frame: [727, 233, 1237, 336], x: [0.0223, 0.1135], y: [-3.15, 5.15], xt: xTicksZoom, xl: xLabelsZoom, xd: 3,
    yt: w4YTicks, yl: w4YLabels, yd: 1, yPad: 9, xPad: 0, xOff: 0, series: [w4Saw, w4Signal] },
  { id: 'c5', frame: [104, 415, 611, 513], x: [0, 0.2024], y: [-2.08, 1.84], xt: xTicksFull, xl: xLabelsFull, xd: 2,
    yt: w5YTicks, yl: w5YLabels, yd: 1, yPad: 7, xPad: 2, xOff: -3, series: [w5Data] },
  { id: 'c6', frame: [727, 417, 1235, 516], x: [0, 0.2016], y: [0, 4.05], xt: xTicksFull, xl: xLabelsFull, xd: 2,
    yt: w6YTicks, yl: w6YLabels, yd: 1, yPad: 1, xPad: -1, xOff: -7, series: [w6Data] },
  { id: 'c7', frame: [136, 597, 609, 696], x: [0, 0.201], y: [-359, 7], xt: xTicksFull, xl: xLabelsFull, xd: 2,
    yt: w7YTicks, yl: w7YLabels, yd: 1, yPad: 9, xPad: -1, xOff: -4, series: [w7Data] },
  { id: 'c8', frame: [744, 597, 1233, 697], x: [0.0211, 0.1115], y: [-3.25, 5.3], xt: xTicksZoom, xl: xLabelsZoom, xd: 3,
    yt: w8YTicks, yl: w8YLabels, yd: 1, yPad: 10, xPad: -1, xOff: -5, series: [w8Saw, w8Signal] }
];

const PAD_L = 110, PAD_T = 8, PAD_R = 8, PAD_B = 40;
const tickFont = { family: 'DejaVu Sans Mono', size: 20, lineHeight: 1 };

function buildChart(p) {
  const [L, T, R, B] = p.frame;
  const cv = document.getElementById(p.id);
  const w = R - L + PAD_L + PAD_R;
  const h = B - T + PAD_T + PAD_B;
  cv.width = w; cv.height = h;
  cv.style.width = w + 'px'; cv.style.height = h + 'px';
  cv.style.left = (L - PAD_L) + 'px';
  cv.style.top = (T - PAD_T) + 'px';

  new Chart(cv, {
    type: 'line',
    data: {
      datasets: p.series.map(s => ({
        data: s.map(([x, y]) => ({ x, y })),
        borderColor: '#000',
        borderWidth: 1.8,
        pointRadius: 0,
        tension: 0,
        fill: false
      }))
    },
    options: {
      responsive: false,
      animation: false,
      devicePixelRatio: 1,
      events: [],
      layout: { autoPadding: false, padding: { left: 0, top: PAD_T, right: PAD_R, bottom: 0 } },
      plugins: { legend: { display: false }, tooltip: { enabled: false } },
      scales: {
        x: {
          type: 'linear', min: p.x[0], max: p.x[1],
          afterBuildTicks: s => { s.ticks = p.xt.map(v => ({ value: v })); },
          afterFit: s => { s.height = PAD_B; },
          ticks: {
            autoSkip: false, maxRotation: 0, color: '#000', font: tickFont,
            padding: p.xPad, labelOffset: p.xOff,
            callback: v => inList(p.xl, v) ? fmt(v, p.xd) : ''
          },
          grid: { color: '#000', lineWidth: 1, tickLength: 5, tickColor: '#000', tickWidth: 1.5 },
          border: { display: false, dash: [2, 2] }
        },
        y: {
          type: 'linear', min: p.y[0], max: p.y[1],
          afterBuildTicks: s => { s.ticks = p.yt.map(v => ({ value: v })); },
          afterFit: s => { s.width = PAD_L; },
          ticks: {
            autoSkip: false, color: '#000', font: tickFont, padding: p.yPad,
            callback: v => inList(p.yl, v) ? fmt(v, p.yd) : ''
          },
          grid: { color: '#000', lineWidth: 1, tickLength: 8, tickColor: '#000', tickWidth: 1.5 },
          border: { display: false, dash: [2, 2] }
        }
      }
    },
    plugins: [framePlugin]
  });
}

panels.forEach(buildChart);
</script>
</body>
</html>
